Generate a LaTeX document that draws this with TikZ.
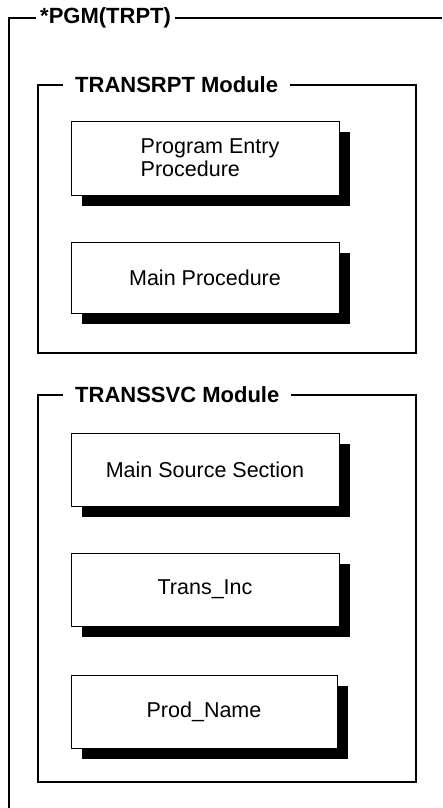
\documentclass[tikz,border=0pt]{standalone}
\usepackage{fontspec}
\setmainfont{Liberation Sans}
\usetikzlibrary{shadows}
\begin{document}
\begin{tikzpicture}[x=1pt,y=-1pt,
  procbox/.style={draw, line width=1pt, fill=white, minimum width=268pt, minimum height=73pt, inner sep=0pt,
    font=\fontsize{21.5}{23}\selectfont, align=left,
    general shadow={fill=black, shadow xshift=11pt, shadow yshift=-11pt}},
  frameline/.style={line width=1.3pt},
  outerline/.style={line width=2pt},
  ftitle/.style={fill=white, anchor=west, inner xsep=12pt, inner ysep=2pt, font=\fontsize{22}{24}\selectfont\bfseries}]
\useasboundingbox (0,0) rectangle (442,808);
% outer frame
\coordinate (ob) at (9,808);
\coordinate (otl) at (9,18);
\coordinate (otr) at (442,18);
\draw[outerline] (ob) -- (otl) -- (otr);
\node[ftitle, inner xsep=4pt] (pgm) at (36,18) {*PGM(TRPT)};
% TRANSRPT module
\draw[frameline] (38,85) rectangle (416,353);
\node[ftitle] (trpt) at (63,85) {TRANSRPT Module};
\node[procbox, minimum height=74pt] (pep) at (205,158) {\hspace*{10pt}Program Entry\\\hspace*{10pt}Procedure};
\node[procbox, minimum height=71pt] (mp) at (205,277.5) {Main Procedure};
% TRANSSVC module
\draw[frameline] (38,395) rectangle (416,782);
\node[ftitle] (tsvc) at (63,395) {TRANSSVC Module};
\node[procbox] (mss) at (205,469.5) {Main Source Section};
\node[procbox] (ti) at (205,589.5) {Trans\_Inc};
\node[procbox, minimum width=266pt] (pn) at (204,711.5) {Prod\_Name};
\end{tikzpicture}
\end{document}
